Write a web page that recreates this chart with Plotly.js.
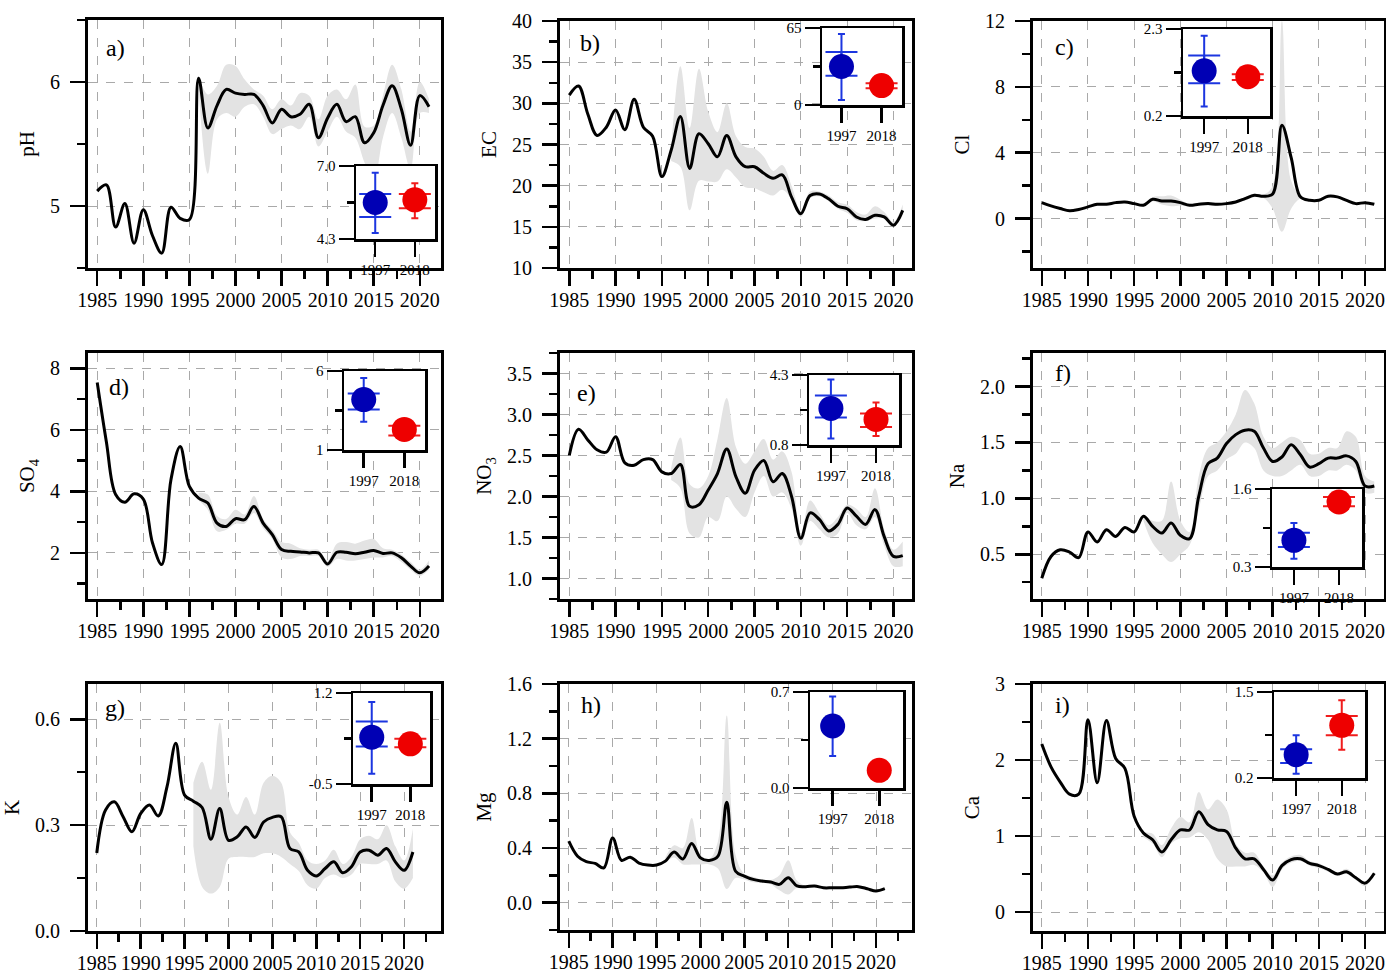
<!DOCTYPE html>
<html>
<head>
<meta charset="utf-8">
<script src="https://cdn.plot.ly/plotly-3.0.1.min.js"></script>
<style>html,body{margin:0;padding:0;background:#fff;}#chart{width:1386px;height:975px;}</style>
</head>
<body>
<div id="chart"></div>
<script>
// ---------------- DATA ----------------
const years = [1985,1986,1987,1988,1989,1990,1991,1992,1993,1994,1995,1996,1997,1998,1999,2000,2001,2002,2003,2004,2005,2006,2007,2008,2009,2010,2011,2012,2013,2014,2015,2016,2017,2018,2019,2020,2021];
const bandYears = [1996,1997,1998,1999,2000,2001,2002,2003,2004,2005,2006,2007,2008,2009,2010,2011,2012,2013,2014,2015,2016,2017,2018,2019,2020,2021];
const insetYears = [1997, 2018];
const insetYearLabels = ['1997', '2018'];

const pH_line  = [5.12,5.17,4.83,5.02,4.70,4.97,4.76,4.62,4.99,4.90,4.89,6.03,5.63,5.81,5.94,5.91,5.90,5.90,5.81,5.67,5.78,5.72,5.74,5.82,5.55,5.71,5.82,5.68,5.72,5.51,5.59,5.81,5.97,5.78,5.49,5.89,5.80];
const pH_upper = [6.05,5.90,5.97,6.14,6.13,6.02,5.94,5.89,5.78,5.86,5.81,5.91,5.89,5.70,5.89,5.94,5.86,5.98,5.64,5.65,5.89,6.14,5.94,5.60,6.00,5.86];
const pH_lower = [5.95,5.26,5.70,5.75,5.72,5.80,5.82,5.72,5.58,5.62,5.65,5.62,5.72,5.48,5.60,5.72,5.60,5.55,5.35,5.20,5.55,5.75,5.55,5.30,5.75,5.75];

const EC_line  = [31.0,32.1,28.7,26.1,27.1,29.2,26.8,30.5,27.1,26.0,21.1,24.3,28.4,22.1,26.3,25.1,23.5,26.1,23.5,22.3,22.3,21.5,20.9,21.3,18.6,16.6,18.8,19.0,18.4,17.5,17.2,16.2,15.9,16.4,16.2,15.2,17.0];
const EC_upper = [24.5,34.5,27.0,34.2,29.0,26.5,30.0,26.0,24.7,24.5,23.5,21.8,22.5,20.0,17.0,19.3,19.3,18.8,18.0,17.7,16.8,16.5,17.5,16.8,15.6,17.7];
const EC_lower = [23.0,22.3,17.0,20.6,20.5,20.5,22.0,21.0,19.8,19.7,19.2,18.8,19.5,18.3,16.2,18.5,18.7,18.1,17.2,16.7,15.8,15.7,16.0,16.0,15.0,16.5];

const Cl_line  = [0.97,0.77,0.61,0.47,0.55,0.71,0.87,0.87,0.97,1.01,0.91,0.81,1.17,1.07,1.07,0.97,0.81,0.87,0.91,0.87,0.91,1.01,1.21,1.42,1.36,1.50,5.67,3.70,1.32,1.11,1.11,1.36,1.32,1.11,0.91,0.97,0.87];
const Cl_upper = [0.90,1.30,1.35,1.40,1.15,0.90,0.95,1.00,0.95,0.95,1.05,1.30,1.50,1.45,2.00,12.0,2.30,1.40,1.15,1.15,1.40,1.35,1.15,0.95,1.00,0.90];
const Cl_lower = [0.75,1.05,0.85,0.75,0.80,0.75,0.80,0.80,0.78,0.85,0.95,1.10,1.30,1.25,0.60,-0.80,0.60,1.20,1.05,1.05,1.30,1.28,1.05,0.88,0.93,0.84];

const SO4_line  = [7.54,5.60,3.90,3.65,3.92,3.75,2.32,1.62,4.38,5.46,4.16,3.78,3.62,2.97,2.86,3.11,3.08,3.51,2.97,2.59,2.11,2.05,2.03,2.00,2.00,1.64,2.02,2.02,1.97,2.02,2.08,1.98,2.00,1.84,1.57,1.35,1.57];
const SO4_upper = [3.95,3.90,3.20,3.10,3.40,3.25,3.85,3.10,2.75,2.35,2.30,2.15,2.10,2.10,1.75,2.30,2.35,2.30,2.40,2.45,2.15,2.10,1.95,1.70,1.45,1.75];
const SO4_lower = [3.70,3.40,2.70,2.75,2.95,2.95,3.30,2.80,2.45,1.85,1.80,1.90,1.90,1.90,1.55,1.80,1.75,1.75,1.80,1.85,1.85,1.90,1.70,1.45,1.25,1.45];

const NO3_line  = [2.50,2.82,2.69,2.57,2.54,2.73,2.41,2.38,2.45,2.45,2.30,2.28,2.39,1.88,1.90,2.08,2.28,2.58,2.24,2.04,2.32,2.44,2.18,2.28,2.00,1.49,1.80,1.72,1.58,1.66,1.86,1.76,1.66,1.84,1.51,1.27,1.28];
const NO3_upper = [2.35,2.72,2.15,2.10,2.25,2.70,3.20,2.60,2.40,2.55,2.70,2.45,2.55,2.30,1.55,1.95,1.80,1.65,1.75,1.90,1.85,1.75,2.10,1.60,1.35,1.45];
const NO3_lower = [2.20,2.10,1.55,1.50,1.75,1.70,2.00,1.85,1.75,2.05,2.25,2.00,2.05,1.85,1.40,1.70,1.60,1.50,1.55,1.80,1.65,1.60,1.75,1.40,1.15,1.15];

const Na_line  = [0.285,0.48,0.54,0.52,0.47,0.70,0.61,0.72,0.66,0.74,0.70,0.84,0.75,0.69,0.78,0.67,0.64,1.02,1.31,1.36,1.49,1.57,1.61,1.60,1.45,1.33,1.37,1.48,1.39,1.28,1.31,1.36,1.36,1.38,1.33,1.11,1.11];
const Na_upper = [0.85,0.80,0.80,1.15,0.80,0.70,1.20,1.45,1.50,1.60,1.75,1.97,1.85,1.55,1.45,1.50,1.55,1.52,1.40,1.40,1.45,1.45,1.60,1.55,1.20,1.15];
const Na_lower = [0.80,0.60,0.50,0.43,0.50,0.58,0.90,1.20,1.25,1.35,1.40,1.50,1.45,1.25,1.20,1.20,1.25,1.30,1.20,1.20,1.25,1.25,1.30,1.25,1.05,1.05];

const K_line  = [0.221,0.343,0.366,0.324,0.281,0.333,0.357,0.326,0.409,0.532,0.385,0.368,0.350,0.260,0.347,0.257,0.267,0.295,0.265,0.309,0.322,0.324,0.234,0.224,0.172,0.156,0.177,0.196,0.165,0.182,0.224,0.229,0.215,0.234,0.196,0.172,0.224];
const K_upper = [0.42,0.48,0.40,0.59,0.38,0.33,0.38,0.33,0.42,0.44,0.42,0.28,0.25,0.20,0.19,0.20,0.23,0.19,0.21,0.26,0.27,0.26,0.30,0.24,0.20,0.29];
const K_lower = [0.24,0.125,0.106,0.125,0.205,0.21,0.21,0.21,0.22,0.22,0.21,0.19,0.17,0.13,0.12,0.15,0.16,0.15,0.16,0.19,0.19,0.19,0.20,0.14,0.12,0.15];

const Mg_line  = [0.45,0.34,0.30,0.287,0.255,0.474,0.31,0.333,0.29,0.275,0.275,0.304,0.37,0.32,0.433,0.328,0.309,0.34,0.734,0.23,0.195,0.17,0.158,0.151,0.134,0.182,0.122,0.117,0.122,0.109,0.109,0.109,0.114,0.117,0.102,0.085,0.102];
const Mg_upper = [0.33,0.42,0.40,0.62,0.35,0.32,0.45,1.37,0.35,0.21,0.19,0.17,0.165,0.20,0.31,0.16,0.125,0.13,0.115,0.115,0.115,0.12,0.125,0.11,0.09,0.11];
const Mg_lower = [0.29,0.33,0.28,0.28,0.28,0.28,0.25,0.10,0.18,0.17,0.15,0.145,0.135,0.09,0.06,0.11,0.11,0.115,0.103,0.103,0.103,0.108,0.11,0.095,0.08,0.095];

const Ca_line  = [2.21,1.91,1.71,1.55,1.55,2.53,1.70,2.52,2.02,1.89,1.26,1.04,0.95,0.79,0.95,1.08,1.08,1.32,1.15,1.08,1.06,0.84,0.70,0.70,0.56,0.42,0.61,0.69,0.70,0.64,0.61,0.56,0.50,0.53,0.45,0.38,0.51];
const Ca_upper = [1.05,1.03,0.88,1.10,1.25,1.18,1.58,1.35,1.48,1.35,0.90,0.78,0.78,0.60,0.48,0.65,0.73,0.75,0.67,0.64,0.58,0.52,0.57,0.47,0.40,0.53];
const Ca_lower = [0.98,0.90,0.72,0.90,0.97,0.98,1.05,0.95,0.70,0.60,0.60,0.60,0.62,0.52,0.33,0.56,0.65,0.67,0.61,0.58,0.53,0.48,0.50,0.42,0.34,0.48];

// inset values: [1997, 2018]
const pH_insetMean = [5.65, 5.75],  pH_insetOuterHi = [6.75, 6.36],  pH_insetOuterLo = [4.52, 5.07],  pH_insetInnerHi = [5.96, 5.96],  pH_insetInnerLo = [5.11, 5.44];
const EC_insetMean = [32.5, 16.4],  EC_insetOuterHi = [59.9, 19.5],  EC_insetOuterLo = [4.2, 13.5],   EC_insetInnerHi = [44.7, 18.4],  EC_insetInnerLo = [24.6, 14.1];
const Cl_insetMean = [1.29, 1.15],  Cl_insetOuterHi = [2.14, 1.28],  Cl_insetOuterLo = [0.43, 1.02],  Cl_insetInnerHi = [1.66, 1.21],  Cl_insetInnerLo = [0.99, 1.07];
const SO4_insetMean = [4.19, 2.30], SO4_insetOuterHi = [5.56, 2.75], SO4_insetOuterLo = [2.79, 1.85], SO4_insetInnerHi = [4.57, 2.53], SO4_insetInnerLo = [3.56, 1.92];
const NO3_insetMean = [2.63, 2.08], NO3_insetOuterHi = [4.08, 2.93], NO3_insetOuterLo = [1.13, 1.25], NO3_insetInnerHi = [3.28, 2.37], NO3_insetInnerLo = [2.18, 1.70];
const Na_insetMean = [0.744, 1.383],Na_insetOuterHi = [1.033, 1.48], Na_insetOuterLo = [0.439, 1.29], Na_insetInnerHi = [0.872, 1.467],Na_insetInnerLo = [0.633, 1.311];
const K_insetMean = [0.375, 0.25],  K_insetOuterHi = [1.03, 0.38],   K_insetOuterLo = [-0.31, 0.13],  K_insetInnerHi = [0.669, 0.344], K_insetInnerLo = [0.20, 0.1875];
const Mg_insetMean = [0.452, 0.129],Mg_insetOuterHi = [0.668, null], Mg_insetOuterLo = [0.233, null], Mg_insetInnerHi = [null, null],  Mg_insetInnerLo = [null, null];
const Ca_insetMean = [0.553, 0.996],Ca_insetOuterHi = [0.845, 1.374],Ca_insetOuterLo = [0.265, 0.628],Ca_insetInnerHi = [0.633, 1.137],Ca_insetInnerLo = [0.427, 0.845];

const panelLabels = ['a)','b)','c)','d)','e)','f)','g)','h)','i)'];
const yTitles = ['pH','EC','Cl','SO<sub>4</sub>','NO<sub>3</sub>','Na','K','Mg','Ca'];
const insetTickText = [['4.3','7.0'],['0','65'],['0.2','2.3'],['1','6'],['0.8','4.3'],['0.3','1.6'],['-0.5','1.2'],['0.0','0.7'],['0.2','1.5']];

const series = [
  {line:pH_line, up:pH_upper, lo:pH_lower, m:pH_insetMean, oh:pH_insetOuterHi, ol:pH_insetOuterLo, ih:pH_insetInnerHi, il:pH_insetInnerLo},
  {line:EC_line, up:EC_upper, lo:EC_lower, m:EC_insetMean, oh:EC_insetOuterHi, ol:EC_insetOuterLo, ih:EC_insetInnerHi, il:EC_insetInnerLo},
  {line:Cl_line, up:Cl_upper, lo:Cl_lower, m:Cl_insetMean, oh:Cl_insetOuterHi, ol:Cl_insetOuterLo, ih:Cl_insetInnerHi, il:Cl_insetInnerLo},
  {line:SO4_line, up:SO4_upper, lo:SO4_lower, m:SO4_insetMean, oh:SO4_insetOuterHi, ol:SO4_insetOuterLo, ih:SO4_insetInnerHi, il:SO4_insetInnerLo},
  {line:NO3_line, up:NO3_upper, lo:NO3_lower, m:NO3_insetMean, oh:NO3_insetOuterHi, ol:NO3_insetOuterLo, ih:NO3_insetInnerHi, il:NO3_insetInnerLo},
  {line:Na_line, up:Na_upper, lo:Na_lower, m:Na_insetMean, oh:Na_insetOuterHi, ol:Na_insetOuterLo, ih:Na_insetInnerHi, il:Na_insetInnerLo},
  {line:K_line, up:K_upper, lo:K_lower, m:K_insetMean, oh:K_insetOuterHi, ol:K_insetOuterLo, ih:K_insetInnerHi, il:K_insetInnerLo},
  {line:Mg_line, up:Mg_upper, lo:Mg_lower, m:Mg_insetMean, oh:Mg_insetOuterHi, ol:Mg_insetOuterLo, ih:Mg_insetInnerHi, il:Mg_insetInnerLo},
  {line:Ca_line, up:Ca_upper, lo:Ca_lower, m:Ca_insetMean, oh:Ca_insetOuterHi, ol:Ca_insetOuterLo, ih:Ca_insetInnerHi, il:Ca_insetInnerLo}
];

// ---------------- LAYOUT SPECS (pixels) ----------------
const W = 1386, H = 975;
const frames = [
  {box:[88,441,20,268],   xr:[1984,2022.3],   yr:[4.5,6.5],   dtick:1,   minor:0.5,  fmt:'',    lab:[16,28], ibox:[356,435,166,239],  iyr:[4.3,7.0]},
  {box:[560,912,21,268],  xr:[1984,2022],     yr:[10,40],     dtick:5,   minor:2.5,  fmt:'',    lab:[18,22], ibox:[822,902,28,105],   iyr:[0,65]},
  {box:[1033,1384,21,268],xr:[1984.05,2022.05],yr:[-3,12],    dtick:4,   minor:2,    fmt:'',    lab:[20,26], ibox:[1183,1270,29,116], iyr:[0.2,2.3]},
  {box:[88,441,353,599],  xr:[1984,2022.3],   yr:[0.5,8.5],   dtick:2,   minor:1,    fmt:'',    lab:[19,34], ibox:[344,425,371,450],  iyr:[1,6]},
  {box:[560,912,353,599], xr:[1984,2022],     yr:[0.75,3.75], dtick:0.5, minor:0.25, fmt:'.1f', lab:[15,40], ibox:[809,899,375,445],  iyr:[0.8,4.3]},
  {box:[1033,1384,353,599],xr:[1984.05,2022.05],yr:[0.1,2.3], dtick:0.5, minor:0.25, fmt:'.1f', lab:[20,20], ibox:[1272,1362,489,567],iyr:[0.3,1.6]},
  {box:[88,441,684,931],  xr:[1984,2024.2],   yr:[0,0.7],     dtick:0.3, minor:0.15, fmt:'.1f', lab:[15,24], ibox:[353,430,693,784],  iyr:[-0.5,1.2]},
  {box:[560,912,684,930], xr:[1984,2024.1],   yr:[-0.2,1.6],  dtick:0.4, minor:0.2,  fmt:'.1f', lab:[19,21], ibox:[810,903,692,788],  iyr:[0,0.7]},
  {box:[1033,1384,684,931],xr:[1984.05,2022.05],yr:[-0.25,3], dtick:1,   minor:0.5,  fmt:'',    lab:[20,21], ibox:[1274,1365,692,778],iyr:[0.2,1.5]}
];

const FONT = '"Liberation Serif", "Times New Roman", Times, serif';
const BLACK = '#000';
const BAND = '#e3e3e3';
const GRID = '#a9a9a9';
const PT_COL = ['#0000b4', '#ee0000'];
const BAR_COL = ['#1c36e0', '#f01c1c'];

function ax(n){ return n === 1 ? '' : String(n); }

const traces = [];
const layout = {
  width: W, height: H,
  margin: {l:0, r:0, t:0, b:0},
  paper_bgcolor: '#fff', plot_bgcolor: '#fff',
  showlegend: false,
  font: {family: FONT, color: BLACK},
  annotations: []
};

frames.forEach((f, k) => {
  const s = series[k];
  const n = k + 1, m = k + 10;
  const xa = 'x' + ax(n), ya = 'y' + ax(n);
  const ixa = 'x' + ax(m), iya = 'y' + ax(m);

  // band
  traces.push({x: bandYears, y: s.up, xaxis: xa, yaxis: ya, mode: 'lines',
    line: {width: 0, shape: 'spline', color: 'rgba(0,0,0,0)'}, hoverinfo: 'skip'});
  traces.push({x: bandYears, y: s.lo, xaxis: xa, yaxis: ya, mode: 'lines', fill: 'tonexty', fillcolor: BAND,
    line: {width: 0, shape: 'spline', color: 'rgba(0,0,0,0)'}, hoverinfo: 'skip'});
  // main line
  traces.push({x: years, y: s.line, xaxis: xa, yaxis: ya, mode: 'lines',
    line: {color: BLACK, width: 3, shape: 'spline'}});

  // inset points
  for (let i = 0; i < 2; i++) {
    if (s.ih[i] != null) {
      traces.push({x: [insetYears[i]], y: [s.m[i]], xaxis: ixa, yaxis: iya, mode: 'markers',
        marker: {size: 1, color: 'rgba(0,0,0,0)'},
        error_y: {type: 'data', symmetric: false, array: [s.ih[i] - s.m[i]], arrayminus: [s.m[i] - s.il[i]],
          color: BAR_COL[i], thickness: 2, width: 16}});
    }
    const tr = {x: [insetYears[i]], y: [s.m[i]], xaxis: ixa, yaxis: iya, mode: 'markers',
      marker: {size: 25, color: PT_COL[i]}};
    if (s.oh[i] != null) {
      tr.error_y = {type: 'data', symmetric: false, array: [s.oh[i] - s.m[i]], arrayminus: [s.m[i] - s.ol[i]],
        color: BAR_COL[i], thickness: 2, width: 3.5};
    }
    traces.push(tr);
  }

  const b = f.box;
  layout['xaxis' + ax(n)] = {
    domain: [b[0] / W, b[1] / W], range: f.xr, anchor: ya,
    tickmode: 'linear', tick0: 1985, dtick: 5, tickangle: 0,
    ticks: 'outside', ticklen: 15, tickwidth: 2.5, tickcolor: BLACK,
    showline: true, linecolor: BLACK, linewidth: 3, mirror: true,
    showgrid: true, gridcolor: GRID, gridwidth: 1, griddash: 'dash', zeroline: false,
    tickfont: {family: FONT, size: 20, color: BLACK}, ticklabelstandoff: -3,
    minor: {tick0: 1985, dtick: 2.5, ticks: 'outside', ticklen: 8, tickwidth: 2.5, tickcolor: BLACK, showgrid: false},
    fixedrange: true
  };
  layout['yaxis' + ax(n)] = {
    domain: [1 - b[3] / H, 1 - b[2] / H], range: f.yr, anchor: xa,
    tickmode: 'linear', tick0: 0, dtick: f.dtick, tickformat: f.fmt,
    ticks: 'outside', ticklen: 15, tickwidth: 2.5, tickcolor: BLACK,
    showline: true, linecolor: BLACK, linewidth: 3, mirror: true,
    showgrid: true, gridcolor: GRID, gridwidth: 1, griddash: 'dash', zeroline: false,
    tickfont: {family: FONT, size: 20, color: BLACK}, ticklabelstandoff: 6,
    minor: {tick0: 0, dtick: f.minor, ticks: 'outside', ticklen: 8, tickwidth: 2.5, tickcolor: BLACK, showgrid: false},
    title: {text: yTitles[k], font: {family: FONT, size: 21, color: BLACK}, standoff: 10},
    fixedrange: true
  };

  const ib = f.ibox;
  layout['xaxis' + ax(m)] = {
    domain: [ib[0] / W, ib[1] / W], range: [1986.8, 2028.7], anchor: iya,
    tickmode: 'array', tickvals: insetYears, ticktext: insetYearLabels, tickangle: 0,
    ticks: 'outside', ticklen: 15, tickwidth: 2.5, tickcolor: BLACK,
    showline: true, linecolor: BLACK, linewidth: 2.5, mirror: true,
    showgrid: false, zeroline: false,
    tickfont: {family: FONT, size: 15, color: BLACK}, fixedrange: true
  };
  layout['yaxis' + ax(m)] = {
    domain: [1 - ib[3] / H, 1 - ib[2] / H], range: f.iyr, anchor: ixa,
    tickmode: 'array', tickvals: f.iyr, ticktext: insetTickText[k],
    ticks: 'outside', ticklen: 15, tickwidth: 2.5, tickcolor: BLACK,
    showline: true, linecolor: BLACK, linewidth: 2.5, mirror: true,
    showgrid: false, zeroline: false,
    minor: {tickmode: 'array', tickvals: [(f.iyr[0] + f.iyr[1]) / 2], ticks: 'outside', ticklen: 7, tickwidth: 2.5, tickcolor: BLACK, showgrid: false},
    tickfont: {family: FONT, size: 15, color: BLACK}, ticklabelstandoff: 0, fixedrange: true
  };

  layout.annotations.push({
    xref: 'paper', yref: 'paper', x: (b[0] + f.lab[0]) / W, y: 1 - (b[2] + f.lab[1]) / H,
    xanchor: 'left', yanchor: 'middle', showarrow: false,
    text: panelLabels[k], font: {family: FONT, size: 24, color: BLACK}
  });
});

Plotly.newPlot('chart', traces, layout, {displayModeBar: false, staticPlot: true});
</script>
</body>
</html>
